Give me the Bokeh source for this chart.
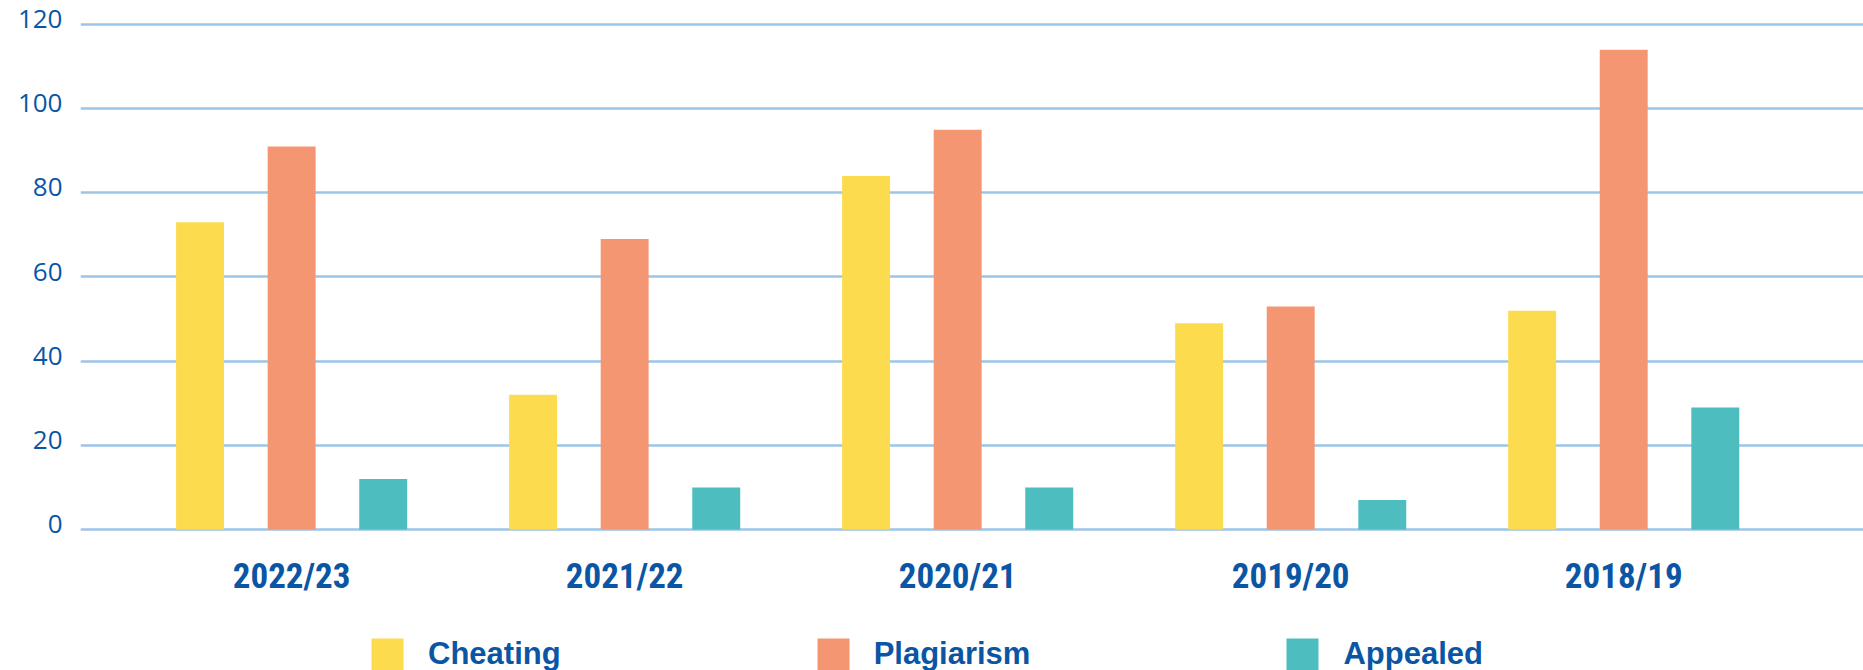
from bokeh.plotting import figure
from bokeh.models import ColumnDataSource, Range1d, FixedTicker, LinearAxis, Legend, LegendItem
from bokeh.transform import dodge
from bokeh.embed import file_html
from bokeh.resources import INLINE

# ---- data ----
years = ["2022/23", "2021/22", "2020/21", "2019/20", "2018/19"]
cheating = [73, 32, 84, 49, 52]
plagiarism = [91, 69, 95, 53, 114]
appealed = [12, 10, 10, 7, 29]
y_ticks = [0, 20, 40, 60, 80, 100, 120]
series_names = ["Cheating", "Plagiarism", "Appealed"]

# ---- style ----
colors = ["#FDDB4F", "#F59672", "#4DBDBF"]
text_blue = "#0A56A5"
grid_blue = "#9DC5E8"
cond_font = "Roboto Condensed, DejaVu Sans Condensed, Liberation Sans Narrow, Liberation Sans"

pos = list(range(len(years)))
src = ColumnDataSource(dict(x=pos, Cheating=cheating, Plagiarism=plagiarism, Appealed=appealed))

y0, y1 = -33.51, 125.70
p = figure(width=1863, height=670,
           x_range=Range1d(-0.634, 4.720), y_range=Range1d(y0, y1),
           y_axis_location=None,
           output_backend="svg", toolbar_location=None,
           min_border_left=80, min_border_right=0,
           min_border_top=0, min_border_bottom=0)
p.outline_line_color = None
p.background_fill_color = "white"
p.border_fill_color = "white"

# grid
p.xgrid.visible = False
p.ygrid.ticker = FixedTicker(ticks=y_ticks)
p.ygrid.grid_line_color = grid_blue
p.ygrid.grid_line_width = 2.5

# y labels (slightly raised above their grid lines)
shift = 1.3
p.extra_y_ranges = {"labels": Range1d(y0 - shift, y1 - shift)}
yax = LinearAxis(y_range_name="labels", ticker=FixedTicker(ticks=y_ticks))
yax.axis_line_color = None
yax.major_tick_line_color = None
yax.minor_tick_line_color = None
yax.major_tick_in = 0
yax.major_tick_out = 0
yax.minor_tick_in = 0
yax.minor_tick_out = 0
yax.major_label_standoff = 18
yax.major_label_text_font = "Open Sans"
yax.major_label_text_font_size = "26px"
yax.major_label_text_color = text_blue
p.add_layout(yax, "left")

# x axis, pinned at the zero line
xax = p.xaxis[0]
xax.fixed_location = 0
xax.ticker = FixedTicker(ticks=pos)
xax.major_label_overrides = {i: y for i, y in zip(pos, years)}
xax.axis_line_color = None
xax.major_tick_line_color = None
xax.minor_tick_line_color = None
xax.major_tick_in = 0
xax.major_tick_out = 0
xax.major_label_standoff = 27
xax.major_label_text_font = cond_font
xax.major_label_text_font_style = "bold"
xax.major_label_text_font_size = "35px"
xax.major_label_text_color = text_blue

# bars
offsets = [-0.275, 0.0, 0.275]
renderers = []
for name, col, off in zip(series_names, colors, offsets):
    r = p.vbar(x=dodge("x", off, range=p.x_range), top=name, bottom=0, width=0.144,
               source=src, fill_color=col, line_color=None)
    renderers.append(r)

legend = Legend(items=[LegendItem(label=n, renderers=[r]) for n, r in zip(series_names, renderers)],
                location=(287, -4), orientation="horizontal",
                glyph_width=40, glyph_height=40, label_standoff=21, spacing=252,
                padding=0, margin=0, border_line_color=None, background_fill_alpha=0,
                label_text_font="Liberation Sans", label_text_font_style="bold",
                label_text_font_size="31px", label_text_color=text_blue)
p.add_layout(legend)

open("out.html", "w").write(file_html(p, INLINE))
